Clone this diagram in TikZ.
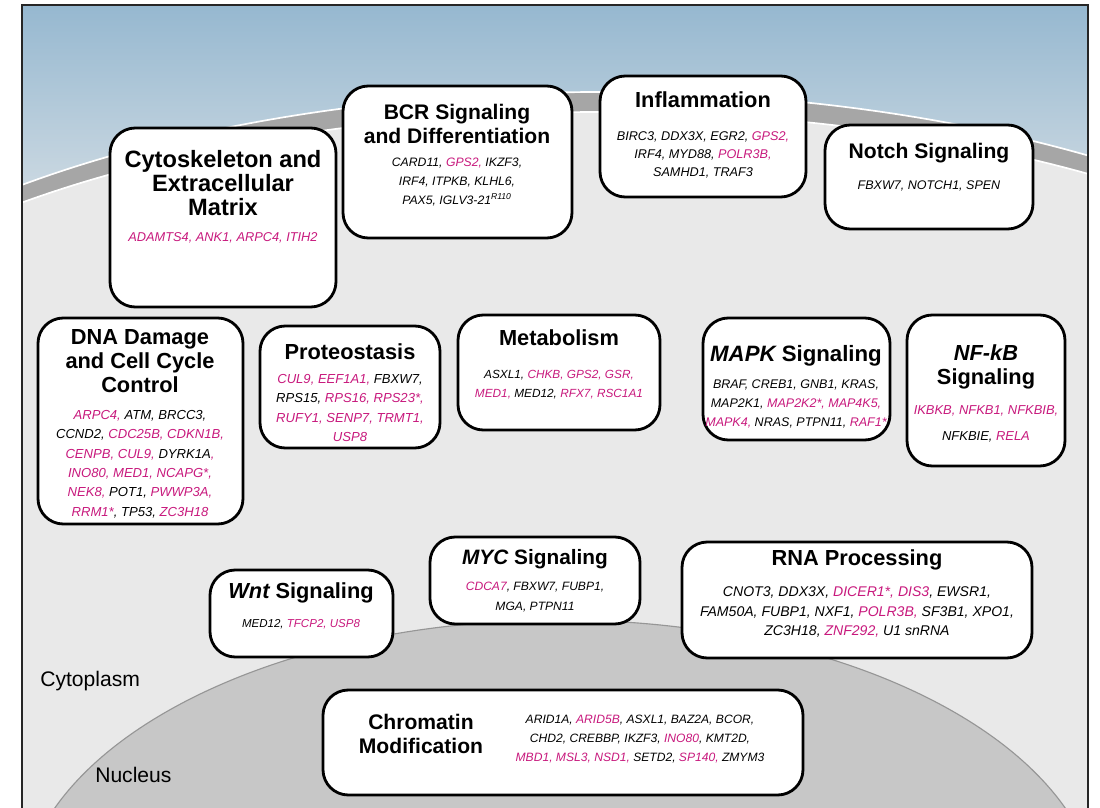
\documentclass[tikz,border=0pt]{standalone}
\usepackage{fontspec}
\setmainfont{Liberation Sans}
\usetikzlibrary{positioning}
\usetikzlibrary{fit,shadings}
\definecolor{genepink}{RGB}{200,25,125}
\definecolor{skytop}{RGB}{150,184,208}
\definecolor{skylow}{RGB}{214,223,229}
\definecolor{membrane}{RGB}{166,166,166}
\definecolor{cytofill}{RGB}{233,233,233}
\definecolor{nucfill}{RGB}{199,199,199}
\definecolor{nucline}{RGB}{150,150,150}
\newcommand{\gfont}[2]{\fontsize{#1}{#2}\selectfont\itshape}
\newcommand{\tfont}[1]{\fontsize{#1}{16.8}\selectfont\bfseries}
\tikzstyle{cell}=[draw=black, line width=2pt, fill=white, rounded corners=18pt, inner sep=0pt]
\tikzstyle{ttl}=[font=\tfont{15.5}, align=center, inner sep=0pt]
\tikzstyle{genes}=[font=\gfont{9.3}{13.8}, align=center, inner sep=0pt]
\tikzstyle{region}=[font=\fontsize{15}{18}\selectfont, inner sep=0pt]
\newcommand{\pk}[1]{\textcolor{genepink}{#1}}

\begin{document}
\begin{tikzpicture}[x=0.025cm, y=-0.025cm]

  \useasboundingbox (0,0) rectangle (1100,808);

  % background: sky, membrane, cytoplasm, nucleus
  \begin{scope}
    \clip (22,5) rectangle (1088,808);
    \shade[top color=skytop, bottom color=skylow] (22,5) rectangle (1088,230);
    \fill[membrane, draw=white, line width=1.2pt] (600,490) ellipse [x radius=900, y radius=398];
    \fill[cytofill, draw=white, line width=1.2pt] (600,490) ellipse [x radius=890, y radius=378];
    \fill[cytofill] (22,470) rectangle (1088,808);
    \fill[nucfill, draw=nucline, line width=0.8pt] (560,911) ellipse [x radius=540, y radius=291];
  \end{scope}
  \draw[line width=1pt, black!85] (22,5) rectangle (1088,830);

  \node[region, anchor=west] (cytoplasm) at (40,681) {Cytoplasm};
  \node[region, anchor=west] (nucleus) at (95,775) {Nucleus};

  % boxes
  \foreach \name/\xa/\ya/\xb/\yb in {cyto/110/128/336/307, bcr/343/86/572/238, infl/600/76/806/197,
      notch/825/125/1033/229, dna/38/318/243/524, prot/260/326/440/448, metab/458/315/660/430,
      mapk/703/318/890/440, nfkb/907/315/1065/466, wnt/210/570/393/657, myc/430/537/640/624,
      rna/682/542/1032/658, chrom/323/690/803/795}
     \node[cell, fit={(\xa,\ya) (\xb,\yb)}] (\name) {};

  % titles
  \node[ttl, font=\tfont{16.8}] (cytoT) at (223,183) {Cytoskeleton and\\Extracellular\\Matrix};
  \node[ttl, font=\tfont{15}] (bcrT) at (457,124) {BCR Signaling\\and Differentiation};
  \node[ttl] (inflT) at (703,100) {Inflammation};
  \node[ttl, font=\tfont{15}] (notchT) at (929,153) {Notch Signaling};
  \node[ttl] (dnaT) at (140,361) {DNA Damage\\and Cell Cycle\\Control};
  \node[ttl] (protT) at (350,352) {Proteostasis};
  \node[ttl] (metabT) at (559,338) {Metabolism};
  \node[ttl, font=\tfont{15.8}] (mapkT) at (796,356) {{\itshape MAPK} Signaling};
  \node[ttl] (nfkbT) at (986,367) {{\itshape NF-kB}\\Signaling};
  \node[ttl] (wntT) at (301,593) {{\itshape Wnt} Signaling};
  \node[ttl, font=\tfont{14.8}] (mycT) at (535,559) {{\itshape MYC} Signaling};
  \node[ttl] (rnaT) at (857,560) {RNA Processing};
  \node[ttl, font=\tfont{15}] (chromT) at (421,734) {Chromatin\\Modification};

  % gene lists
  \node[genes, font=\gfont{9.1}{13.8}] (cytoG) at (223,238) {\pk{ADAMTS4, ANK1, ARPC4, ITIH2}};
  \node[genes, font=\gfont{8.7}{13.8}] (bcrG) at (457,182) {CARD11, \pk{GPS2,} IKZF3,\\IRF4, ITPKB, KLHL6,\\PAX5, IGLV3-21\textsuperscript{R110}};
  \node[genes, font=\gfont{9}{12.6}] (inflG) at (703,155) {BIRC3, DDX3X, EGR2, \pk{GPS2,}\\IRF4, MYD88, \pk{POLR3B,}\\SAMHD1, TRAF3};
  \node[genes, font=\gfont{8.9}{13.8}] (notchG) at (929,186) {FBXW7, NOTCH1, SPEN};
  \node[genes] (dnaG) at (140,464) {\pk{ARPC4,} ATM, BRCC3,\\CCND2, \pk{CDC25B, CDKN1B,}\\\pk{CENPB, CUL9,} DYRK1A\pk{,}\\\pk{INO80, MED1, NCAPG*,}\\\pk{NEK8,} POT1, \pk{PWWP3A,}\\\pk{RRM1*}, TP53, \pk{ZC3H18}};
  \node[genes] (protG) at (350,408) {\pk{CUL9, EEF1A1,} FBXW7,\\RPS15, \pk{RPS16, RPS23*,}\\\pk{RUFY1, SENP7, TRMT1,}\\\pk{USP8}};
  \node[genes, font=\gfont{8.4}{13.5}] (metabG) at (559,385) {ASXL1, \pk{CHKB, GPS2, GSR,}\\\pk{MED1,} MED12, \pk{RFX7, RSC1A1}};
  \node[genes, font=\gfont{8.9}{13.8}] (mapkG) at (796,404) {BRAF, CREB1, GNB1, KRAS,\\MAP2K1, \pk{MAP2K2*, MAP4K5,}\\\pk{MAPK4,} NRAS, PTPN11, \pk{RAF1*}};
  \node[genes, font=\gfont{9.2}{18}] (nfkbG) at (986,424) {\pk{IKBKB, NFKB1, NFKBIB,}\\NFKBIE, \pk{RELA}};
  \node[genes, font=\gfont{8.2}{13.8}] (wntG) at (301,624) {MED12, \pk{TFCP2, USP8}};
  \node[genes, font=\gfont{8.6}{13.8}] (mycG) at (535,597) {\pk{CDCA7}, FBXW7, FUBP1,\\MGA, PTPN11};
  \node[genes, font=\gfont{10}{13.8}] (rnaG) at (857,612) {CNOT3, DDX3X, \pk{DICER1*, DIS3}, EWSR1,\\FAM50A, FUBP1, NXF1, \pk{POLR3B,} SF3B1, XPO1,\\ZC3H18, \pk{ZNF292,} U1 snRNA};
  \node[genes, font=\gfont{8.6}{13.8}] (chromG) at (640,739) {ARID1A, \pk{ARID5B}, ASXL1, BAZ2A, BCOR,\\CHD2, CREBBP, IKZF3, \pk{INO80}, KMT2D,\\\pk{MBD1, MSL3, NSD1,} SETD2, \pk{SP140,} ZMYM3};

\end{tikzpicture}
\end{document}
